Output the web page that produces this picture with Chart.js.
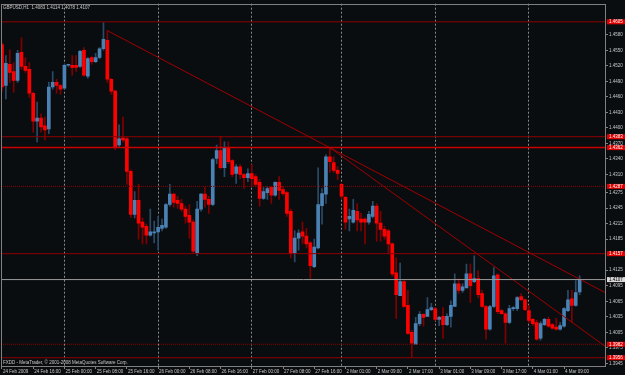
<!DOCTYPE html>
<html>
<head>
<meta charset="utf-8">
<script src="https://cdn.jsdelivr.net/npm/chart.js@4/dist/chart.umd.min.js"></script>
<style>
  html, body { margin: 0; padding: 0; background: #0a0d10; }
  #wrap { width: 625px; height: 375px; }
</style>
</head>
<body>
<div id="wrap"><canvas id="chart" width="625" height="375"></canvas></div>
<script>
// GBPUSD H1, 24 Feb 2009 08:00 .. 4 Mar 2009 13:00 (one bar per hour)
const opens = [
  1.4561,1.4482,1.4523,1.4509,1.4492,1.4546,1.4519,1.4513,1.4467,1.4413,1.4419,1.4404,1.4398,1.4479,1.4488,1.4482,
  1.4477,1.4521,1.4521,1.4521,1.4519,1.4550,1.4500,1.4536,1.4528,1.4536,1.4553,1.4569,1.4494,1.4471,1.4367,1.4381,
  1.4379,1.4316,1.4233,1.4260,1.4218,1.4210,1.4193,1.4197,1.4199,1.4206,1.4208,1.4252,1.4272,1.4260,1.4254,1.4243,
  1.4231,1.4218,1.4158,1.4243,1.4272,1.4262,1.4252,1.4341,1.4356,1.4323,1.4362,1.4337,1.4312,1.4325,1.4310,1.4304,
  1.4312,1.4306,1.4295,1.4264,1.4275,1.4285,1.4270,1.4295,1.4281,1.4275,1.4239,1.4157,1.4187,1.4199,1.4191,1.4178,
  1.4132,1.4168,1.4250,1.4272,1.4344,1.4333,1.4318,1.4291,1.4266,1.4224,1.4218,1.4239,1.4224,1.4224,1.4218,1.4229,
  1.4249,1.4216,1.4204,1.4201,1.4176,1.4120,1.4076,1.4103,1.4057,1.4005,1.3982,1.4022,1.4040,1.4036,1.4049,1.4051,
  1.4030,1.4036,1.4020,1.4036,1.4055,1.4099,1.4086,1.4091,1.4118,1.4103,1.4109,1.4080,1.4055,1.4011,1.4055,1.4116,
  1.4047,1.4041,1.4024,1.4051,1.4051,1.4074,1.4068,1.4047,1.4030,1.4024,1.3994,1.4020,1.4030,1.4020,1.4015,1.4011,
  1.4017,1.4047,1.4070,1.4057,1.4083
];
const highs = [
  1.4565,1.4540,1.4551,1.4526,1.4550,1.4574,1.4536,1.4526,1.4469,1.4450,1.4427,1.4421,1.4488,1.4509,1.4494,1.4484,
  1.4523,1.4523,1.4540,1.4540,1.4550,1.4555,1.4536,1.4538,1.4544,1.4555,1.4603,1.4588,1.4496,1.4473,1.4406,1.4421,
  1.4383,1.4319,1.4277,1.4291,1.4226,1.4214,1.4243,1.4220,1.4229,1.4224,1.4254,1.4291,1.4273,1.4268,1.4262,1.4249,
  1.4252,1.4222,1.4258,1.4273,1.4285,1.4268,1.4341,1.4367,1.4383,1.4373,1.4373,1.4339,1.4329,1.4329,1.4312,1.4321,
  1.4329,1.4310,1.4300,1.4285,1.4287,1.4287,1.4296,1.4306,1.4287,1.4277,1.4243,1.4201,1.4203,1.4218,1.4206,1.4181,
  1.4185,1.4323,1.4283,1.4348,1.4362,1.4344,1.4325,1.4293,1.4268,1.4243,1.4262,1.4254,1.4235,1.4227,1.4239,1.4258,
  1.4254,1.4239,1.4210,1.4204,1.4178,1.4149,1.4139,1.4105,1.4086,1.4009,1.4034,1.4045,1.4041,1.4072,1.4061,1.4053,
  1.4036,1.4053,1.4041,1.4066,1.4118,1.4109,1.4099,1.4137,1.4137,1.4153,1.4124,1.4086,1.4057,1.4057,1.4130,1.4118,
  1.4049,1.4043,1.4057,1.4055,1.4074,1.4080,1.4070,1.4057,1.4032,1.4028,1.4026,1.4032,1.4034,1.4022,1.4032,1.4024,
  1.4053,1.4086,1.4086,1.4105,1.4114
];
const lows = [
  1.4471,1.4456,1.4488,1.4469,1.4488,1.4513,1.4507,1.4459,1.4392,1.4373,1.4392,1.4377,1.4389,1.4475,1.4467,1.4465,
  1.4475,1.4519,1.4502,1.4509,1.4517,1.4500,1.4496,1.4523,1.4526,1.4534,1.4550,1.4488,1.4465,1.4358,1.4364,1.4373,
  1.4291,1.4227,1.4226,1.4185,1.4176,1.4176,1.4191,1.4178,1.4164,1.4201,1.4206,1.4249,1.4247,1.4245,1.4239,1.4216,
  1.4187,1.4158,1.4153,1.4239,1.4247,1.4235,1.4250,1.4331,1.4321,1.4306,1.4331,1.4306,1.4293,1.4302,1.4283,1.4296,
  1.4287,1.4287,1.4249,1.4262,1.4262,1.4254,1.4268,1.4262,1.4270,1.4229,1.4149,1.4141,1.4164,1.4176,1.4168,1.4109,
  1.4130,1.4166,1.4214,1.4254,1.4314,1.4314,1.4300,1.4264,1.4204,1.4201,1.4216,1.4201,1.4201,1.4176,1.4214,1.4226,
  1.4181,1.4181,1.4185,1.4157,1.4114,1.4032,1.4076,1.4053,1.4001,1.3957,1.3982,1.4018,1.4017,1.4036,1.4047,1.4028,
  1.4018,1.3994,1.4018,1.4015,1.4055,1.4080,1.4082,1.4091,1.4063,1.4101,1.4072,1.4053,1.3992,1.4009,1.4053,1.4041,
  1.4040,1.3984,1.4022,1.4047,1.4047,1.4066,1.4047,1.4024,1.4018,1.3990,1.3990,1.4018,1.4015,1.4011,1.4009,1.4009,
  1.4015,1.4045,1.4024,1.4055,1.4078
];
const closes = [
  1.4479,1.4525,1.4507,1.4492,1.4544,1.4519,1.4511,1.4467,1.4413,1.4419,1.4402,1.4396,1.4479,1.4488,1.4482,1.4475,
  1.4521,1.4522,1.4517,1.4517,1.4548,1.4502,1.4534,1.4528,1.4536,1.4553,1.4571,1.4494,1.4471,1.4364,1.4379,1.4377,
  1.4316,1.4233,1.4260,1.4216,1.4208,1.4193,1.4199,1.4199,1.4208,1.4212,1.4252,1.4272,1.4256,1.4254,1.4243,1.4229,
  1.4218,1.4162,1.4243,1.4272,1.4262,1.4252,1.4339,1.4356,1.4323,1.4362,1.4335,1.4310,1.4325,1.4310,1.4304,1.4312,
  1.4302,1.4291,1.4264,1.4277,1.4283,1.4270,1.4295,1.4279,1.4273,1.4235,1.4157,1.4187,1.4197,1.4191,1.4176,1.4134,
  1.4170,1.4252,1.4273,1.4344,1.4335,1.4318,1.4312,1.4268,1.4218,1.4229,1.4241,1.4222,1.4218,1.4218,1.4233,1.4249,
  1.4216,1.4204,1.4191,1.4176,1.4118,1.4078,1.4103,1.4055,1.4003,1.3984,1.4022,1.4040,1.4034,1.4049,1.4053,1.4030,
  1.4034,1.4020,1.4036,1.4057,1.4099,1.4086,1.4093,1.4118,1.4095,1.4109,1.4078,1.4055,1.4011,1.4055,1.4114,1.4045,
  1.4041,1.4024,1.4051,1.4053,1.4072,1.4068,1.4049,1.4028,1.4022,1.3992,1.4022,1.4030,1.4017,1.4013,1.4011,1.4018,
  1.4051,1.4068,1.4057,1.4082,1.4107
];

// time axis: bar index of each label, and the label text
const timeTickIdx = [0, 8, 16, 24, 32, 40, 48, 56, 64, 72, 80, 88, 96, 104, 112, 120, 128, 136, 144];
const timeTickText = ['24 Feb 2009', '24 Feb 16:00', '25 Feb 00:00', '25 Feb 08:00', '25 Feb 16:00',
  '26 Feb 00:00', '26 Feb 08:00', '26 Feb 16:00', '27 Feb 00:00', '27 Feb 08:00', '27 Feb 16:00',
  '2 Mar 01:00', '2 Mar 09:00', '2 Mar 17:00', '3 Mar 01:00', '3 Mar 09:00', '3 Mar 17:00',
  '4 Mar 01:00', '4 Mar 09:00'];
// first bar of each new day (period separators)
const daySeparators = [16, 40, 64, 87, 111, 135];

const priceTicks = [1.4580, 1.4550, 1.4520, 1.4490, 1.4460, 1.4430, 1.4400, 1.4370, 1.4340, 1.4310,
  1.4275, 1.4245, 1.4215, 1.4185, 1.4125, 1.4095, 1.4065, 1.4035, 1.4005, 1.3975, 1.3945];

// horizontal lines drawn by the user, and the current bid
const levelPrices = [1.4605, 1.4383, 1.4362, 1.4287, 1.4157, 1.3982, 1.3956];
const bidPrice = 1.4107;

// trend lines: [bar index, price] pairs
const trendA = [[27, 1.4588], [154.75, 1.4081]];
const trendB = [[84, 1.4362], [154.75, 1.3977]];

const symbolTitle = 'GBPUSD,H1  1.4083 1.4114 1.4078 1.4107';
const footerText = 'FXDD - MetaTrader, \u00a9 2001-2008 MetaQuotes Software Corp.';

// MetaTrader-ish colours
const BG       = '#0a0d10';
const BULL     = '#4a82b4';
const BEAR     = '#ff0000';
const WICK_UP  = '#2a4b68';
const WICK_DN  = '#800000';
const LEVEL    = '#8c0000';
const FRAME    = '#808080';
const TEXT     = '#c8c8c8';
const FONT     = "'Liberation Sans', Arial, sans-serif";
const FSIZE    = 4.5;

const X_MIN = -0.25, X_MAX = 154.75;

const idx = opens.map((_, i) => i);
const up = idx.map((i) => closes[i] >= opens[i]);

const levelStyle = (p) => {
  if (p === 1.4362) return { color: '#c80000', width: 1.5, dash: [] };
  if (p === 1.4287 || p === 1.3982) return { color: LEVEL, width: 1, dash: [1, 1] };
  return { color: LEVEL, width: 1, dash: [] };
};

const levelSets = levelPrices.map((p) => {
  const s = levelStyle(p);
  return {
    type: 'line',
    data: [{ x: X_MIN, y: p }, { x: X_MAX, y: p }],
    borderColor: s.color, borderWidth: s.width, borderDash: s.dash,
    pointRadius: 0, order: 0,
  };
});

const trendSet = (pts) => ({
  type: 'line',
  data: pts.map(([x, y]) => ({ x, y })),
  borderColor: '#a00000', borderWidth: 1,
  pointRadius: 0, order: 0,
});

const decor = {
  id: 'decor',
  beforeDraw(chart) {
    const { ctx, width, height } = chart;
    ctx.save();
    ctx.fillStyle = BG;
    ctx.fillRect(0, 0, width, height);
    ctx.restore();
  },
  afterDraw(chart) {
    const { ctx, chartArea: a, scales: { y } } = chart;
    ctx.save();
    // frame
    ctx.strokeStyle = FRAME;
    ctx.lineWidth = 1;
    ctx.strokeRect(Math.round(a.left) + 0.5, Math.round(a.top) + 0.5,
      Math.round(a.width) - 1, Math.round(a.height));

    ctx.font = FSIZE + 'px ' + FONT;
    ctx.textBaseline = 'middle';
    ctx.textAlign = 'left';
    ctx.fillStyle = TEXT;
    ctx.fillText(symbolTitle, a.left + 2, a.top + 4.5);
    ctx.fillText(footerText, a.left + 2, a.bottom - 3.5);

    // price tags on the right axis
    const tag = (p, fill, color) => {
      const py = y.getPixelForValue(p);
      ctx.fillStyle = fill;
      ctx.fillRect(a.right + 1, py - 2.5, chart.width - a.right - 1, 5);
      ctx.fillStyle = color;
      ctx.fillText(p.toFixed(4), a.right + 3, py + 0.3);
    };
    levelPrices.forEach((p) => tag(p, '#e00000', '#ffffff'));
    tag(bidPrice, '#d8d8d8', '#000000');
    ctx.restore();
  },
};

new Chart(document.getElementById('chart'), {
  type: 'bar',
  data: {
    datasets: [
      ...levelSets,
      {
        type: 'line',
        data: [{ x: X_MIN, y: bidPrice }, { x: X_MAX, y: bidPrice }],
        borderColor: '#9a9a9a', borderWidth: 1, pointRadius: 0, order: 0,
      },
      trendSet(trendA),
      trendSet(trendB),
      {
        label: 'body',
        data: idx.map((i) => ({ x: i, y: [opens[i], closes[i]] })),
        backgroundColor: up.map((u) => (u ? BULL : BEAR)),
        borderWidth: 0,
        barThickness: 3,
        minBarLength: 1,
        grouped: false,
        order: 1,
      },
      {
        label: 'wick',
        data: idx.map((i) => ({ x: i, y: [lows[i], highs[i]] })),
        backgroundColor: up.map((u) => (u ? WICK_UP : WICK_DN)),
        borderWidth: 0,
        barThickness: 1,
        grouped: false,
        order: 2,
      },
    ],
  },
  options: {
    responsive: false,
    animation: false,
    events: [],
    layout: { padding: { left: 1, top: 1, right: 0, bottom: 0 } },
    plugins: { legend: { display: false }, tooltip: { enabled: false } },
    scales: {
      x: {
        type: 'linear',
        min: X_MIN,
        max: X_MAX,
        offset: false,
        afterBuildTicks: (s) => {
          const all = [...new Set([...timeTickIdx, ...daySeparators])].sort((a, b) => a - b);
          s.ticks = all.map((v) => ({ value: v }));
        },
        afterFit: (s) => { s.height = 9; },
        border: { display: false, dash: [2, 2] },
        grid: {
          offset: false,
          color: (c) => (daySeparators.includes(c.tick && c.tick.value) ? '#8a8a8a' : 'transparent'),
          tickColor: (c) => (timeTickIdx.includes(c.tick && c.tick.value) ? FRAME : 'transparent'),
          tickLength: 3,
          tickBorderDash: [],
        },
        ticks: {
          autoSkip: false,
          maxRotation: 0,
          minRotation: 0,
          align: 'start',
          padding: 0,
          labelOffset: 1,
          color: TEXT,
          font: { family: FONT, size: FSIZE },
          callback: (v) => {
            const k = timeTickIdx.indexOf(v);
            return k >= 0 ? timeTickText[k] : '';
          },
        },
      },
      y: {
        position: 'right',
        min: 1.3940,
        max: 1.4640,
        afterBuildTicks: (s) => { s.ticks = priceTicks.map((v) => ({ value: v })); },
        afterFit: (s) => { s.width = 19; },
        border: { display: false },
        grid: { drawOnChartArea: false, color: FRAME, tickLength: 2 },
        ticks: {
          padding: 1,
          color: TEXT,
          font: { family: FONT, size: FSIZE },
          callback: (v) => Number(v).toFixed(4),
        },
      },
    },
  },
  plugins: [decor],
});
</script>
</body>
</html>
